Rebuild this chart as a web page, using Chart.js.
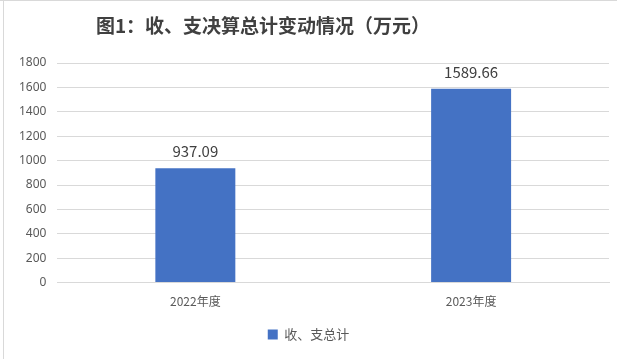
<!DOCTYPE html>
<html>
<head>
<meta charset="utf-8">
<script src="https://cdn.jsdelivr.net/npm/chart.js@4"></script>
<style>
  html, body { margin: 0; padding: 0; background: #fff; }
  #wrap { position: relative; width: 617px; height: 359px; border-top: 1px solid #d9d9d9; box-sizing: border-box; }
  #edge { position: absolute; left: 3px; top: 0; width: 1px; height: 359px; background: #d9d9d9; }
</style>
</head>
<body>
<div id="wrap">
  <div id="edge"></div>
  <canvas id="myChart" width="617" height="358"></canvas>
</div>
<script>
var labels = ['2022年度', '2023年度'];
var totals = [937.09, 1589.66];
var seriesName = '收、支总计';
var titleText = '图1：收、支决算总计变动情况（万元）';

// value labels above the bars + title drawn a bit left of center like the original
var valueLabels = {
  id: 'valueLabels',
  afterDatasetsDraw(chart) {
    var ctx = chart.ctx;
    var meta = chart.getDatasetMeta(0);
    ctx.save();
    ctx.font = '15px "Noto Sans CJK SC", "Noto Sans", sans-serif';
    ctx.fillStyle = '#404040';
    ctx.textAlign = 'center';
    ctx.textBaseline = 'bottom';
    meta.data.forEach(function (bar, i) {
      ctx.fillText(totals[i].toFixed(2), bar.x, bar.y - 9);
    });
    ctx.font = 'bold 19px "Noto Sans CJK SC", sans-serif';
    ctx.textBaseline = 'middle';
    ctx.fillText(titleText, 263, 25);
    ctx.restore();
  }
};

var ctx = document.getElementById('myChart').getContext('2d');
var chart = new Chart(ctx, {
  type: 'bar',
  data: {
    labels: labels,
    datasets: [{
      label: seriesName,
      data: totals,
      backgroundColor: '#4472C4',
      borderWidth: 0,
      barPercentage: 0.29,
      categoryPercentage: 1
    }]
  },
  options: {
    responsive: false,
    animation: false,
    layout: { padding: { left: 8, right: 8, top: 62, bottom: 8 } },
    plugins: {
      title: { display: false },
      legend: {
        position: 'bottom',
        labels: {
          color: '#595959',
          font: { size: 13, family: '"Noto Sans CJK SC", sans-serif' },
          boxWidth: 10,
          boxHeight: 10,
          padding: 7
        }
      },
      tooltip: { enabled: false }
    },
    scales: {
      x: {
        grid: { display: false, drawTicks: false },
        border: { color: '#d9d9d9' },
        ticks: {
          color: '#595959',
          padding: 12,
          font: { size: 12, family: '"Noto Sans CJK SC", sans-serif' }
        }
      },
      y: {
        min: 0,
        max: 1800,
        grid: { color: '#d9d9d9', drawTicks: false },
        border: { display: false },
        ticks: {
          stepSize: 200,
          color: '#595959',
          padding: 11,
          font: { size: 12, family: '"Noto Sans", sans-serif' },
          callback: function (v) { return String(v); }
        }
      }
    }
  },
  plugins: [valueLabels]
});
</script>
</body>
</html>
